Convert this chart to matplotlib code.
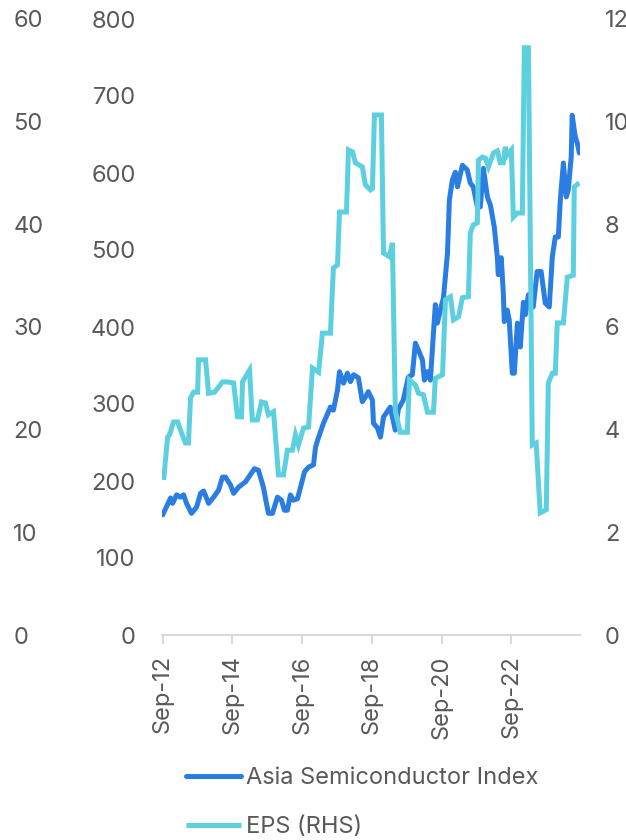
import matplotlib
matplotlib.use("Agg")
import matplotlib.pyplot as plt
import pandas as pd

# Asia Semiconductor Index (left inner axis, 0-800)
index_dates = [
    "2012-09-01", "2012-11-23", "2012-12-14", "2013-01-25", "2013-03-07", "2013-04-08",
    "2013-05-09", "2013-06-30", "2013-08-22", "2013-10-03", "2013-11-04", "2013-12-26",
    "2014-02-17", "2014-04-09", "2014-05-20", "2014-06-21", "2014-08-12", "2014-09-14",
    "2014-11-05", "2015-01-17", "2015-03-29", "2015-04-20", "2015-06-01", "2015-07-23",
    "2015-08-24", "2015-09-14", "2015-10-26", "2015-12-17", "2016-01-29", "2016-02-28",
    "2016-03-30", "2016-05-01", "2016-06-02", "2016-07-14", "2016-08-15", "2016-09-26",
    "2016-11-07", "2016-12-29", "2017-01-19", "2017-02-10", "2017-04-12", "2017-06-24",
    "2017-07-25", "2017-09-06", "2017-09-27", "2017-11-08", "2017-12-19", "2018-01-20",
    "2018-02-21", "2018-04-13", "2018-05-24", "2018-06-25", "2018-07-26", "2018-09-07",
    "2018-09-18", "2018-10-29", "2018-11-30", "2019-01-01", "2019-03-13", "2019-05-04",
    "2019-06-05", "2019-07-27", "2019-09-18", "2019-10-30", "2019-12-01", "2020-01-02",
    "2020-02-13", "2020-03-04", "2020-04-05", "2020-05-06", "2020-06-07", "2020-06-27",
    "2020-07-18", "2020-08-19", "2020-09-20", "2020-11-01", "2020-11-21", "2020-12-22",
    "2021-01-23", "2021-02-14", "2021-04-06", "2021-05-27", "2021-06-28", "2021-07-29",
    "2021-09-10", "2021-10-11", "2021-11-12", "2021-12-24", "2022-01-25", "2022-03-06",
    "2022-04-07", "2022-04-17", "2022-05-18", "2022-06-09", "2022-06-19", "2022-07-20",
    "2022-08-10", "2022-09-11", "2022-10-02", "2022-11-03", "2022-12-04", "2023-01-05",
    "2023-01-26", "2023-02-27", "2023-04-18", "2023-05-29", "2023-07-10", "2023-08-22",
    "2023-10-03", "2023-11-04", "2023-12-05", "2024-01-06", "2024-01-27", "2024-02-28",
    "2024-03-29", "2024-04-19", "2024-05-20", "2024-05-30", "2024-07-01", "2024-07-22",
    "2024-08-13",
]
index_values = [
    156, 178, 171, 182, 179, 182,
    171, 158, 166, 184, 187, 171,
    179, 188, 205, 205, 195, 184,
    192, 199, 212, 216, 214, 192,
    171, 158, 158, 179, 175, 162,
    162, 182, 175, 177, 192, 212,
    218, 221, 244, 253, 275, 296,
    292, 318, 342, 327, 340, 329,
    338, 334, 303, 309, 316, 305,
    275, 269, 257, 283, 296, 266,
    293, 305, 335, 338, 379, 370,
    357, 331, 342, 331, 392, 429,
    405, 422, 438, 496, 565, 591,
    601, 582, 610, 604, 587, 582,
    556, 556, 606, 569, 558, 530,
    491, 468, 490, 444, 407, 422,
    409, 340, 340, 405, 374, 432,
    416, 442, 426, 472, 472, 431,
    426, 491, 517, 517, 565, 613,
    569, 578, 621, 675, 647, 639,
    626,
]

# EPS (right axis, 0-12)
eps_dates = [
    "2012-09-11", "2012-10-23", "2012-11-13", "2012-12-24", "2013-02-05", "2013-03-07",
    "2013-04-28", "2013-05-29", "2013-06-20", "2013-07-21", "2013-09-02", "2013-09-12",
    "2013-11-24", "2013-12-26", "2014-02-27", "2014-05-20", "2014-07-11", "2014-09-14",
    "2014-10-25", "2014-12-06", "2014-12-16", "2015-02-28", "2015-03-29", "2015-05-21",
    "2015-07-02", "2015-08-13", "2015-09-14", "2015-11-06", "2015-12-28", "2016-02-19",
    "2016-03-30", "2016-05-22", "2016-06-23", "2016-07-24", "2016-09-15", "2016-11-07",
    "2016-12-18", "2017-02-20", "2017-04-01", "2017-06-24", "2017-07-25", "2017-09-06",
    "2017-09-27", "2017-12-09", "2017-12-30", "2018-02-11", "2018-03-12", "2018-05-24",
    "2018-06-25", "2018-08-17", "2018-09-07", "2018-09-28", "2018-12-10", "2019-01-01",
    "2019-03-03", "2019-04-04", "2019-05-05", "2019-06-26", "2019-09-08", "2019-09-29",
    "2019-12-01", "2020-01-02", "2020-02-23", "2020-04-05", "2020-06-07", "2020-06-27",
    "2020-09-10", "2020-10-11", "2020-12-02", "2021-01-03", "2021-02-25", "2021-04-06",
    "2021-06-08", "2021-06-28", "2021-07-29", "2021-09-10", "2021-09-21", "2021-11-02",
    "2021-12-03", "2022-01-04", "2022-02-26", "2022-04-07", "2022-05-08", "2022-06-09",
    "2022-06-29", "2022-07-20", "2022-09-01", "2022-09-22", "2022-11-03", "2022-12-25",
    "2023-01-15", "2023-02-27", "2023-04-08", "2023-05-19", "2023-06-30", "2023-09-02",
    "2023-09-23", "2023-11-04", "2023-12-05", "2023-12-26", "2024-02-28", "2024-04-09",
    "2024-06-11", "2024-06-21", "2024-08-13",
]
eps_values = [
    3.02, 3.86, 3.90, 4.15, 4.15, 3.99,
    3.74, 3.74, 4.62, 4.73, 4.73, 5.36,
    5.36, 4.71, 4.73, 4.93, 4.93, 4.91,
    4.25, 4.25, 4.93, 5.16, 4.19, 4.19,
    4.54, 4.52, 4.29, 4.35, 3.12, 3.12,
    3.60, 3.60, 3.90, 3.70, 4.03, 4.05,
    5.20, 5.12, 5.88, 5.88, 7.15, 7.21,
    8.24, 8.24, 9.45, 9.41, 9.20, 9.12,
    8.77, 8.67, 8.70, 10.13, 10.13, 7.44,
    7.37, 7.64, 4.35, 3.95, 3.95, 4.97,
    4.87, 4.71, 4.68, 4.34, 4.34, 5.00,
    5.07, 6.53, 6.59, 6.14, 6.20, 6.57,
    6.59, 7.83, 7.99, 8.03, 9.25, 9.31,
    9.29, 9.12, 9.39, 9.43, 9.20, 9.20,
    9.51, 9.35, 9.45, 8.14, 8.22, 8.22,
    11.44, 11.44, 3.70, 3.74, 2.38, 2.44,
    4.91, 5.10, 5.10, 6.08, 6.08, 6.97,
    7.01, 8.73, 8.81,
]

tick_dates = ["2012-09-01", "2014-09-01", "2016-09-01", "2018-09-01", "2020-09-01", "2022-09-01"]
tick_labels = ["Sep-12", "Sep-14", "Sep-16", "Sep-18", "Sep-20", "Sep-22"]
outer_ticks = [0, 10, 20, 30, 40, 50, 60]
index_ticks = [0, 100, 200, 300, 400, 500, 600, 700, 800]
eps_ticks = [0, 2, 4, 6, 8, 10, 12]

blue = "#2A7DE1"
cyan = "#5DD0E0"
txt = "#595959"
grid_gray = "#D9D9D9"
fs = 17

plt.rcParams["font.family"] = ["Inter", "DejaVu Sans"]

fig = plt.figure(figsize=(6.26, 8.4), dpi=100)
ax = fig.add_axes([162 / 626, 1 - 635 / 840, (580 - 162) / 626, (635 - 19) / 840])
ax_eps = ax.twinx()
ax_outer = ax.twinx()

idx_line, = ax.plot(pd.to_datetime(index_dates), index_values, color=blue, lw=3.6,
                    solid_joinstyle="round", solid_capstyle="round")
eps_line, = ax_eps.plot(pd.to_datetime(eps_dates), eps_values, color=cyan, lw=3.6,
                        solid_joinstyle="miter", solid_capstyle="butt")

ax.set_xlim(pd.Timestamp("2012-08-25"), pd.Timestamp("2024-08-20"))
ax.set_ylim(0, 800)
ax_eps.set_ylim(0, 12)
ax_outer.set_ylim(0, 60)

for a in (ax, ax_eps, ax_outer):
    for s in a.spines.values():
        s.set_visible(False)
ax.spines["bottom"].set_visible(True)
ax.spines["bottom"].set_color(grid_gray)
ax.spines["bottom"].set_linewidth(1.5)

ax.set_xticks(pd.to_datetime(tick_dates))
ax.set_xticklabels(tick_labels, rotation=90, fontsize=fs, color=txt)
ax.tick_params(axis="x", length=6.5, width=1.5, color=grid_gray, pad=8)

ax.set_yticks(index_ticks)
ax.set_yticklabels([str(v) for v in index_ticks], fontsize=fs, color=txt)
ax.tick_params(axis="y", length=0, pad=19)

ax_eps.set_yticks(eps_ticks)
ax_eps.set_yticklabels([str(v) for v in eps_ticks], fontsize=fs, color=txt)
ax_eps.tick_params(axis="y", length=0, pad=18)

ax_outer.yaxis.set_ticks_position("left")
ax_outer.set_yticks(outer_ticks)
ax_outer.set_yticklabels([str(v) for v in outer_ticks], fontsize=fs, color=txt, ha="left")
ax_outer.tick_params(axis="y", length=0, pad=107)

fig.legend([idx_line, eps_line], ["Asia Semiconductor Index", "EPS (RHS)"],
           loc="upper left", bbox_to_anchor=(186 / 626, 1 - 767 / 840),
           frameon=False, fontsize=fs, labelcolor=txt, handlelength=2.35,
           handletextpad=0.2, labelspacing=1.15, borderpad=0, borderaxespad=0)

fig.savefig("out.png", dpi=100)
